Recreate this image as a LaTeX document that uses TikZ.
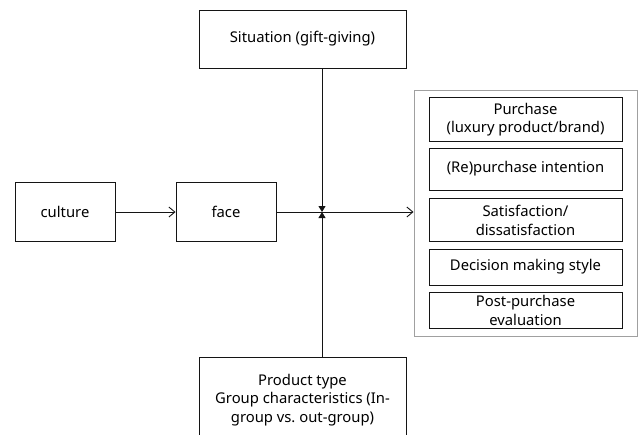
\documentclass[tikz,border=0pt]{standalone}
\usepackage{fontspec}
\usepackage{xcolor}
\usepackage{tikz}
\usetikzlibrary{arrows.meta}
\newfontfamily\figfont{Noto Sans}
\definecolor{figline}{RGB}{20,20,20}
\definecolor{figframe}{RGB}{160,160,160}
\tikzset{
  bx/.style   ={draw=figline, line width=0.9pt, align=center, inner sep=0pt, font=\figfont\fontsize{14.8}{18.5}\selectfont},
  frm/.style  ={draw=figframe, line width=1pt, inner sep=0pt},
  ln/.style   ={draw=figline, line width=0.9pt},
  opn/.style  ={ln, -{Straight Barb[length=6pt,width=10pt,line width=0.9pt]}},
  fil/.style  ={ln, -{Triangle[length=6pt,width=7pt]}},
}
\begin{document}
\begin{tikzpicture}[x=1pt,y=-1pt]
  \useasboundingbox (0,0) rectangle (639,434);
  \node[bx,minimum width=100pt,minimum height=59pt] (culture) at (65,211.5) {culture};
  \node[bx,minimum width=100pt,minimum height=59pt] (face) at (226,211.5) {face};
  \node[bx,minimum width=207pt,minimum height=58pt] (situation) at (302.5,39) {Situation (gift-giving)};
  \node[bx,minimum width=207pt,minimum height=86pt] (product) at (302.5,400) {Product type\\Group characteristics (In-\\group vs.\ out-group)};
  \coordinate (jn) at (322,212);
  % outcome group
  \node[frm,minimum width=223pt,minimum height=246pt] (outcome) at (525.5,213) {};
  \node[bx,minimum width=193pt,minimum height=44pt] (purchase) at (525.5,119.5) {Purchase\\(luxury product/brand)};
  \node[bx,minimum width=193pt,minimum height=42pt] (intention) at (525.5,169) {(Re)purchase intention};
  \node[bx,minimum width=193pt,minimum height=43pt] (satisfy) at (525.5,220.3) {Satisfaction/\\dissatisfaction};
  \node[bx,minimum width=193pt,minimum height=36pt] (style) at (525.5,267) {Decision making style};
  \node[bx,minimum width=193pt,minimum height=36pt] (evaluate) at (525.5,310.3) {Post-purchase\\evaluation};
  % connectors
  \draw[opn] (culture.east |- jn) -- (face.west |- jn);
  \draw[opn] (face.east |- jn) -- (outcome.west |- jn);
  \draw[fil] (situation.south -| jn) -- (jn);
  \draw[fil] (product.north -| jn) -- (jn);
\end{tikzpicture}
\end{document}
